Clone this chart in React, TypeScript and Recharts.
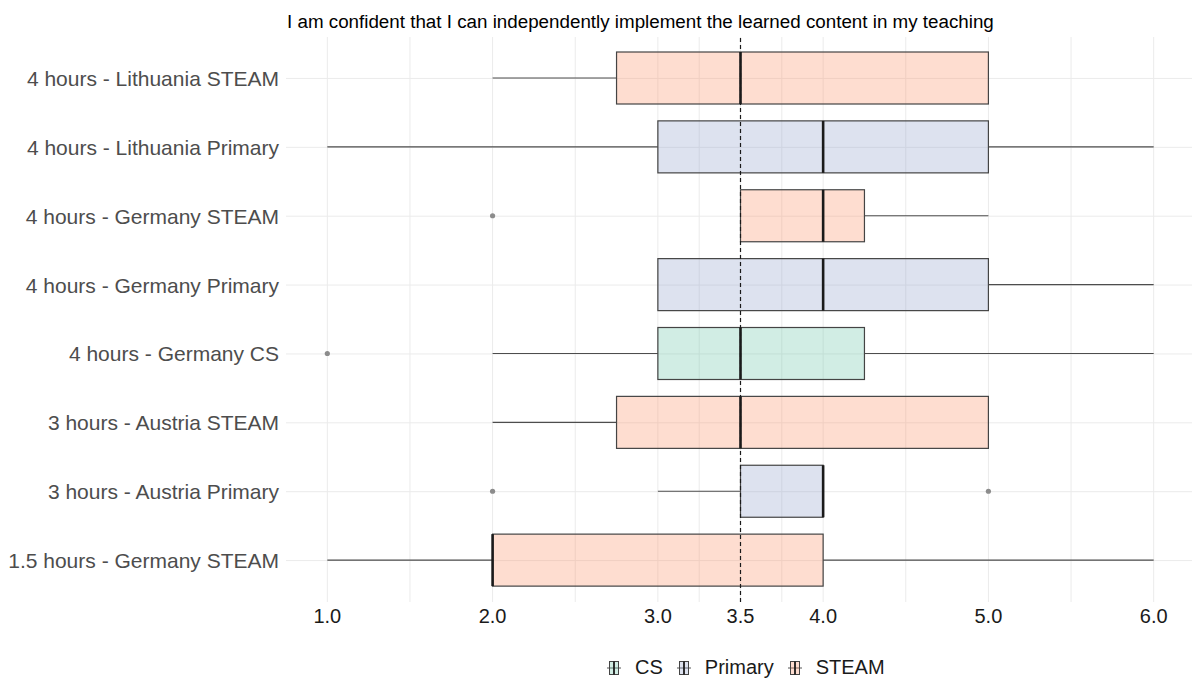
import React from 'react'
import { ComposedChart, Bar, XAxis, YAxis, CartesianGrid, ReferenceLine } from 'recharts'

const categories = [
  '4 hours - Lithuania STEAM',
  '4 hours - Lithuania Primary',
  '4 hours - Germany STEAM',
  '4 hours - Germany Primary',
  '4 hours - Germany CS',
  '3 hours - Austria STEAM',
  '3 hours - Austria Primary',
  '1.5 hours - Germany STEAM',
]
const groups = ['STEAM', 'Primary', 'STEAM', 'Primary', 'CS', 'STEAM', 'Primary', 'STEAM']
const whiskerLow = [2, 1, 3.5, 3, 2, 2, 3, 1]
const q1 = [2.75, 3, 3.5, 3, 3, 2.75, 3.5, 2]
const median = [3.5, 4, 4, 4, 3.5, 3.5, 4, 2]
const q3 = [5, 5, 4.25, 5, 4.25, 5, 4, 4]
const whiskerHigh = [5, 6, 5, 6, 6, 5, 4, 6]
const outliers: number[][] = [[], [], [2], [], [1], [], [2, 5], []]

// labelled breaks, plus the minor grid positions between them
const xTicks = [1, 2, 3, 3.5, 4, 5, 6]
const gridValues = [1, 1.5, 2, 2.5, 3, 3.25, 3.5, 3.75, 4, 4.5, 5, 5.5, 6]
const legendGroups = ['CS', 'Primary', 'STEAM']
const groupColors: Record<string, string> = { CS: '#66c2a5', Primary: '#8da0cb', STEAM: '#fc8d62' }

const title = 'I am confident that I can independently implement the learned content in my teaching'
const font = '"Liberation Sans", Arial, sans-serif'

const rows = categories.map((name, i) => ({
  name,
  group: groups[i],
  lo: whiskerLow[i],
  q1: q1[i],
  med: median[i],
  q3: q3[i],
  hi: whiskerHigh[i],
  out: outliers[i],
}))

// the bar covers the whisker range; everything else is placed on that bar's own scale
function BoxShape(props: any) {
  const { x, y, width, height, payload } = props
  const k = width / (payload.hi - payload.lo)
  const px = (v: number) => x + (v - payload.lo) * k
  const cy = y + height / 2
  return (
    <g>
      <line x1={px(payload.lo)} x2={px(payload.q1)} y1={cy} y2={cy} stroke="#4d4d4d" strokeWidth={1.1} />
      <line x1={px(payload.q3)} x2={px(payload.hi)} y1={cy} y2={cy} stroke="#4d4d4d" strokeWidth={1.1} />
      <rect
        x={px(payload.q1)}
        y={y}
        width={px(payload.q3) - px(payload.q1)}
        height={height}
        fill={groupColors[payload.group]}
        fillOpacity={0.3}
        stroke="#444"
        strokeWidth={1.2}
      />
      <line x1={px(payload.med)} x2={px(payload.med)} y1={y} y2={y + height} stroke="#1a1a1a" strokeWidth={2.6} />
      {payload.out.map((v: number, j: number) => (
        <circle key={j} cx={px(v)} cy={cy} r={2.6} fill="#8c8c8c" stroke="none" />
      ))}
    </g>
  )
}

function KeyGlyph({ color }: { color: string }) {
  return (
    <svg width={24} height={16} style={{ display: 'block' }}>
      <line x1={5} x2={19} y1={8} y2={8} stroke="#555" strokeWidth={1} />
      <rect x={7.5} y={1.5} width={9} height={13} fill={color} fillOpacity={0.3} stroke="#444" strokeWidth={1} />
      <line x1={12} x2={12} y1={1.5} y2={14.5} stroke="#1a1a1a" strokeWidth={1.8} />
    </svg>
  )
}

export default function App() {
  return (
    <div
      style={{
        position: 'absolute',
        left: 0,
        top: 0,
        width: 1192,
        height: 680,
        overflow: 'hidden',
        background: '#fff',
        fontFamily: font,
      }}
    >
      <ComposedChart
        layout="vertical"
        width={1195}
        height={680}
        data={rows}
        margin={{ top: 37, right: 0, bottom: 48, left: 6 }}
      >
        <CartesianGrid stroke="#ebebeb" strokeWidth={1} syncWithTicks />
        <XAxis
          type="number"
          domain={[0.75, 6.25]}
          ticks={gridValues}
          interval={0}
          tickFormatter={(v: number) => (xTicks.includes(v) ? v.toFixed(1) : '')}
          axisLine={false}
          tickLine={false}
          tickMargin={1}
          height={30}
          tick={{ fontSize: 20, fill: '#1a1a1a', fontFamily: font }}
        />
        <YAxis
          type="category"
          dataKey="name"
          width={280}
          interval={0}
          axisLine={false}
          tickLine={false}
          tickMargin={1}
          padding={{ top: 7, bottom: 7 }}
          tick={{ fontSize: 21, fill: '#4d4d4d', fontFamily: font }}
        />
        <Bar
          dataKey={(d: any) => [d.lo, d.hi]}
          barSize={52}
          shape={BoxShape}
          isAnimationActive={false}
        />
        <ReferenceLine x={3.5} stroke="#1a1a1a" strokeWidth={1.2} strokeDasharray="4 3" />
      </ComposedChart>

      <div
        style={{
          position: 'absolute',
          left: 287,
          top: 12,
          fontSize: 18.8,
          lineHeight: '19px',
          color: '#000',
          whiteSpace: 'nowrap',
        }}
      >
        {title}
      </div>

      <div
        style={{
          position: 'absolute',
          left: 602,
          top: 657,
          display: 'flex',
          alignItems: 'center',
          fontSize: 20,
          lineHeight: '20px',
          color: '#1a1a1a',
          whiteSpace: 'nowrap',
        }}
      >
        {legendGroups.map((g) => (
          <div key={g} style={{ display: 'flex', alignItems: 'center', marginRight: 9 }}>
            <div style={{ marginRight: 9, marginTop: 1 }}>
              <KeyGlyph color={groupColors[g]} />
            </div>
            <span>{g}</span>
          </div>
        ))}
      </div>
    </div>
  )
}
